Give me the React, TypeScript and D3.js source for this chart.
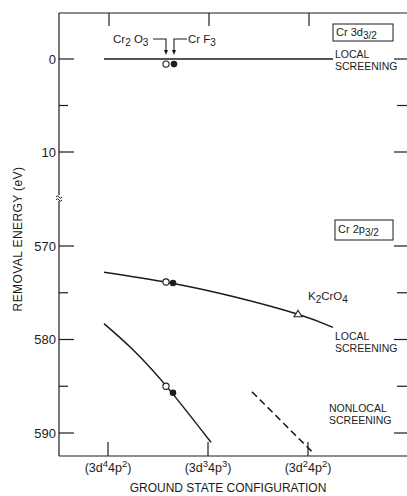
import React from "react";
import * as d3 from "d3";

// Ground-state configurations along the x axis: (3d^n 4p^m)
const configPos = [0, 1, 2];
const configD = ["4", "3", "2"];
const configP = ["2", "3", "2"];

// Energy axis ticks (eV), split into valence (3d) and core (2p) windows
const valenceTicks = [0, 5, 10];
const valenceLabels = [0, 10];
const coreTicks = [570, 575, 580, 585, 590];
const coreLabels = [570, 580, 590];

// Cr 3d3/2 local screening level
const levelX = [-0.04, 2.25];
const levelE = [0, 0];
const dOpenX = 0.58; // Cr2O3
const dFilledX = 0.66; // CrF3
const dPointE = 0.55;

// Cr 2p3/2 local screening curve
const localX = [-0.04, 0.6, 1.25, 1.9, 2.25];
const localE = [572.8, 573.9, 575.4, 577.3, 578.7];
const localOpen = [0.58, 573.85];
const localFilled = [0.65, 573.95];
const k2cro4 = [1.9, 577.3];

// Cr 2p3/2 nonlocal screening curve
const nonlocalX = [-0.04, 0.25, 0.6, 1.03];
const nonlocalE = [578.3, 581.1, 585.2, 591.0];
const nonlocalOpen = [0.58, 585.0];
const nonlocalFilled = [0.65, 585.7];

// Extrapolated nonlocal branch (dashed)
const dashX = [1.44, 2.05];
const dashE = [585.6, 592.1];

const W = 407;
const H = 496;
const left = 59;
const top = 13;
const bottom = 456;
const right = 408;
const breakY = 198;

const font = "'Liberation Sans', Arial, Helvetica, sans-serif";
const ink = "#1c1c1c";

export default function App() {
  const x = d3.scaleLinear().domain([0, 2]).range([108, 308]);
  const yTop = d3.scaleLinear().domain([0, 10]).range([59, 152]);
  const yBot = d3.scaleLinear().domain([570, 590]).range([246, 433]);
  const y = (e: number) => (e < 100 ? yTop(e) : yBot(e));

  const curve = (xs: number[], es: number[]) =>
    d3
      .line<number>()
      .x((_, i) => x(xs[i]))
      .y((_, i) => y(es[i]))
      .curve(d3.curveNatural)(xs) as string;

  const straight = (xs: number[], es: number[]) =>
    d3
      .line<number>()
      .x((_, i) => x(xs[i]))
      .y((_, i) => y(es[i]))(xs) as string;

  const openCircle = (px: number, e: number, k: string) => (
    <circle key={k} cx={x(px)} cy={y(e)} r={3.1} fill="#fff" stroke={ink} strokeWidth={1.1} />
  );
  const filledCircle = (px: number, e: number, k: string) => (
    <circle key={k} cx={x(px)} cy={y(e)} r={3.3} fill={ink} />
  );

  const yTicks = [
    ...valenceTicks.map((t) => ({ v: t, major: valenceLabels.includes(t) })),
    ...coreTicks.map((t) => ({ v: t, major: coreLabels.includes(t) })),
  ];

  const tx = x(k2cro4[0]);
  const ty = y(k2cro4[1]);

  const aOx = x(dOpenX);
  const aFx = x(dFilledX);
  const arrowTop = 39;
  const arrowTip = 55;

  return (
    <div style={{ position: "absolute", left: 0, top: 0 }}>
      <svg width={W} height={H} style={{ display: "block", background: "#fff" }}>
        <g fill="none" stroke={ink} strokeWidth={1.2}>
          {/* frame */}
          <line x1={left} y1={top} x2={right} y2={top} />
          <line x1={left} y1={bottom} x2={right} y2={bottom} />
          <line x1={left} y1={top} x2={left} y2={breakY - 3} />
          <line x1={left} y1={breakY + 3} x2={left} y2={bottom} />
          {/* axis break */}
          <path d={`M${left - 3},${breakY - 1} q1.5,-2.5 3,0 t3,0`} strokeWidth={1} />
          <path d={`M${left - 3},${breakY + 2} q1.5,-2.5 3,0 t3,0`} strokeWidth={1} />
          {/* x ticks, top and bottom */}
          {configPos.map((c) => (
            <g key={"xt" + c}>
              <line x1={x(c) + 1} y1={top} x2={x(c) + 1} y2={top + 13} />
              <line x1={x(c)} y1={bottom} x2={x(c)} y2={bottom - 14} />
            </g>
          ))}
          {/* y ticks, left and right */}
          {yTicks.map((t) => (
            <g key={"yt" + t.v}>
              <line x1={left} y1={y(t.v)} x2={left + (t.major ? 15 : 9)} y2={y(t.v)} />
              <line x1={W - (t.major ? 13 : 10)} y1={y(t.v)} x2={W} y2={y(t.v)} />
            </g>
          ))}
        </g>

        {/* y tick labels */}
        <g fontFamily={font} fontSize={13} fill={ink} textAnchor="end">
          {[...valenceLabels, ...coreLabels].map((v) => (
            <text key={"yl" + v} x={56} y={y(v) + 4.5}>
              {v}
            </text>
          ))}
        </g>

        {/* x tick labels */}
        <g fontFamily={font} fontSize={12.5} fill={ink} textAnchor="middle">
          {configPos.map((c, i) => (
            <text key={"xl" + c} x={x(c)} y={472}>
              (3d
              <tspan dy={-5} fontSize={9.5}>
                {configD[i]}
              </tspan>
              <tspan dy={5}>4p</tspan>
              <tspan dy={-5} fontSize={9.5}>
                {configP[i]}
              </tspan>
              <tspan dy={5}>)</tspan>
            </text>
          ))}
        </g>

        {/* axis titles */}
        <text
          x={228}
          y={492}
          fontFamily={font}
          fontSize={12}
          fill={ink}
          textAnchor="middle"
        >
          GROUND STATE CONFIGURATION
        </text>
        <text
          transform="translate(22,239) rotate(-90)"
          fontFamily={font}
          fontSize={12}
          fill={ink}
          textAnchor="middle"
          letterSpacing={0.4}
        >
          REMOVAL ENERGY (eV)
        </text>

        {/* curves */}
        <g fill="none" stroke={ink} strokeWidth={1.5}>
          <path d={straight(levelX, levelE)} />
          <path d={curve(localX, localE)} />
          <path d={curve(nonlocalX, nonlocalE)} />
          <path d={straight(dashX, dashE)} strokeDasharray="7,4" />
        </g>

        {/* data points */}
        {openCircle(dOpenX, dPointE, "d-open")}
        {filledCircle(dFilledX, dPointE, "d-filled")}
        {openCircle(localOpen[0], localOpen[1], "l-open")}
        {filledCircle(localFilled[0], localFilled[1], "l-filled")}
        {openCircle(nonlocalOpen[0], nonlocalOpen[1], "n-open")}
        {filledCircle(nonlocalFilled[0], nonlocalFilled[1], "n-filled")}
        <path
          d={`M${tx},${ty - 4} L${tx + 4},${ty + 2.5} L${tx - 4},${ty + 2.5} Z`}
          fill="#fff"
          stroke={ink}
          strokeWidth={1.1}
        />

        {/* compound pointers */}
        <g fill="none" stroke={ink} strokeWidth={1.1}>
          <path d={`M153,${arrowTop} H${aOx} V${arrowTip - 4}`} />
          <path d={`M187,${arrowTop} H${aFx} V${arrowTip - 4}`} />
        </g>
        <g fill={ink}>
          <path d={`M${aOx - 2},${arrowTip - 5} L${aOx + 2},${arrowTip - 5} L${aOx},${arrowTip} Z`} />
          <path d={`M${aFx - 2},${arrowTip - 5} L${aFx + 2},${arrowTip - 5} L${aFx},${arrowTip} Z`} />
        </g>

        <g fontFamily={font} fontSize={11.5} fill={ink}>
          <text x={113} y={43}>
            Cr
            <tspan dy={3} fontSize={10}>
              2
            </tspan>
            <tspan dy={-3}> O</tspan>
            <tspan dy={3} fontSize={10}>
              3
            </tspan>
          </text>
          <text x={188} y={43}>
            Cr F
            <tspan dy={3} fontSize={10}>
              3
            </tspan>
          </text>
          <text x={308} y={300}>
            K
            <tspan dy={3} fontSize={10}>
              2
            </tspan>
            <tspan dy={-3}>CrO</tspan>
            <tspan dy={3} fontSize={10}>
              4
            </tspan>
          </text>
        </g>

        {/* screening labels */}
        <g fontFamily={font} fontSize={10.5} fill={ink}>
          <text x={335} y={58}>LOCAL</text>
          <text x={335} y={70}>SCREENING</text>
          <text x={335} y={340}>LOCAL</text>
          <text x={335} y={352}>SCREENING</text>
          <text x={329} y={412}>NONLOCAL</text>
          <text x={329} y={424}>SCREENING</text>
        </g>

        {/* level boxes */}
        <g fontFamily={font} fill={ink}>
          <rect x={333} y={24} width={60} height={17} fill="#fff" stroke={ink} strokeWidth={1} />
          <text x={336} y={36} fontSize={11}>
            Cr 3d
            <tspan dy={3} fontSize={10}>
              3/2
            </tspan>
          </text>
          <rect x={335} y={220} width={58} height={20} fill="#fff" stroke={ink} strokeWidth={1} />
          <text x={338} y={233} fontSize={11}>
            Cr 2p
            <tspan dy={3} fontSize={10}>
              3/2
            </tspan>
          </text>
        </g>
      </svg>
    </div>
  );
}
